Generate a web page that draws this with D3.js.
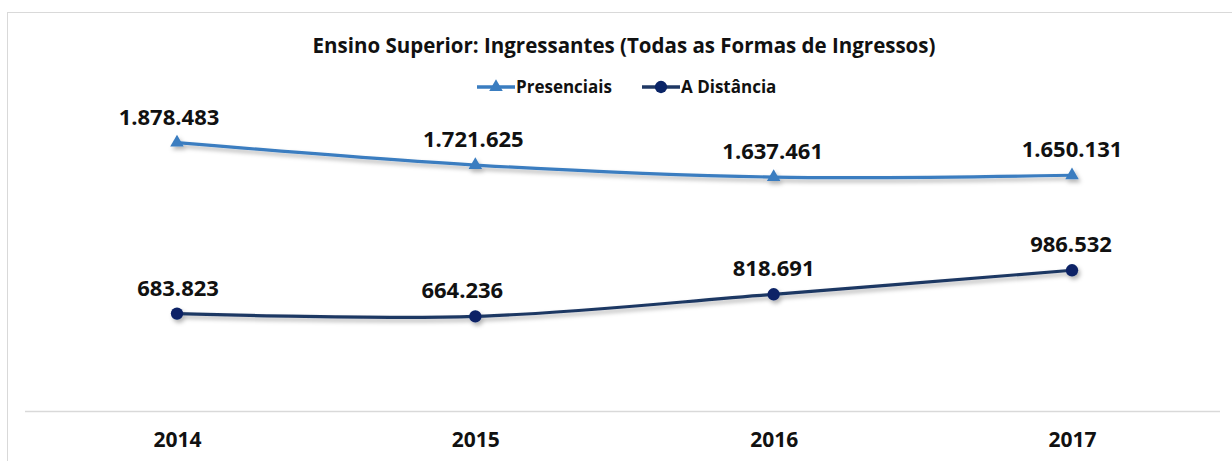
<!DOCTYPE html>
<html><head><meta charset="utf-8">
<script src="https://cdn.jsdelivr.net/npm/d3@7"></script>
<style>body{margin:0;background:#fff}svg{display:block}text{font-family:"Open Sans","Noto Sans",sans-serif}</style>
</head><body><svg id="c" width="1232" height="461"></svg>
<script>
const years = ["2014","2015","2016","2017"];
const presenciais = [1878483, 1721625, 1637461, 1650131];
const distancia = [683823, 664236, 818691, 986532];
const seriesNames = ["Presenciais","A Distância"];
const title = "Ensino Superior: Ingressantes (Todas as Formas de Ingressos)";
// small horizontal nudges of the data labels, as placed in the original
const labelNudge = [[-8, -2, -1, 0], [1, -13, 0, -1]];

const svg = d3.select("#c");
const fmt = v => d3.format(",")(v).replace(/,/g, ".");

const defs = svg.append("defs");
const f = defs.append("filter").attr("id","sh").attr("x","-10%").attr("y","-50%").attr("width","120%").attr("height","200%");
f.append("feDropShadow").attr("dx",2).attr("dy",3).attr("stdDeviation",2).attr("flood-color","#000").attr("flood-opacity",0.3);

svg.append("rect").attr("x",7.5).attr("y",12.5).attr("width",1240).attr("height",460)
  .attr("fill","#fff").attr("stroke","#d9d9d9");

const x = d3.scalePoint().domain(years).range([177,1072]);
const y = d3.scaleLinear().domain([0,2500000]).range([411.5,53.6]);

const xAxis = svg.append("g").attr("transform","translate(0,411.5)")
  .call(d3.axisBottom(x).tickSize(0).tickPadding(21));
xAxis.select(".domain").attr("d","M25,0H1220").attr("stroke","#d9d9d9").attr("stroke-width",1.5);
xAxis.selectAll("text").attr("font-size",21).attr("font-weight","bold").attr("fill","#111").attr("font-family","'Open Sans'");

svg.append("text").attr("x",624).attr("y",53).attr("text-anchor","middle")
  .attr("font-size",20.5).attr("font-weight","bold").attr("fill","#111").text(title);

const colors = ["#3a7dc0","#1f3864"];
const markerColors = ["#3a7dc0","#0a2466"];
const data = [presenciais, distancia];
const line = d3.line().x((d,i)=>x(years[i])).y(d=>y(d)).curve(d3.curveCatmullRom.alpha(0.5));

const sym = [d3.symbol().type(d3.symbolTriangle).size(80), d3.symbol().type(d3.symbolCircle).size(120)];

data.forEach((vals,s)=>{
  const g = svg.append("g").attr("filter","url(#sh)");
  g.append("path").datum(vals).attr("d",line).attr("fill","none")
   .attr("stroke",colors[s]).attr("stroke-width",3.2);
  g.selectAll("path.m").data(vals).join("path").attr("class","m")
   .attr("transform",(d,i)=>`translate(${x(years[i])},${y(d)})`)
   .attr("d",sym[s]()).attr("fill",markerColors[s]);
  svg.selectAll(null).data(vals).join("text")
   .attr("x",(d,i)=>x(years[i])+labelNudge[s][i]).attr("y",d=>y(d)-18)
   .attr("text-anchor","middle").attr("font-size",22).attr("font-weight","bold").attr("fill","#111")
   .text(d=>fmt(d));
});

const leg = [{x0:477,x1:515,tx:516},{x0:642,x1:680,tx:681}];
leg.forEach((l,s)=>{
  const g = svg.append("g");
  g.append("line").attr("x1",l.x0).attr("x2",l.x1).attr("y1",87).attr("y2",87)
   .attr("stroke",colors[s]).attr("stroke-width",3.5);
  g.append("path").attr("transform",`translate(${(l.x0+l.x1)/2},87)`).attr("d",sym[s]()).attr("fill",markerColors[s]);
  g.append("text").attr("x",l.tx).attr("y",93).attr("font-size",17).attr("font-weight","bold").attr("fill","#111").text(seriesNames[s]);
});
</script></body></html>
